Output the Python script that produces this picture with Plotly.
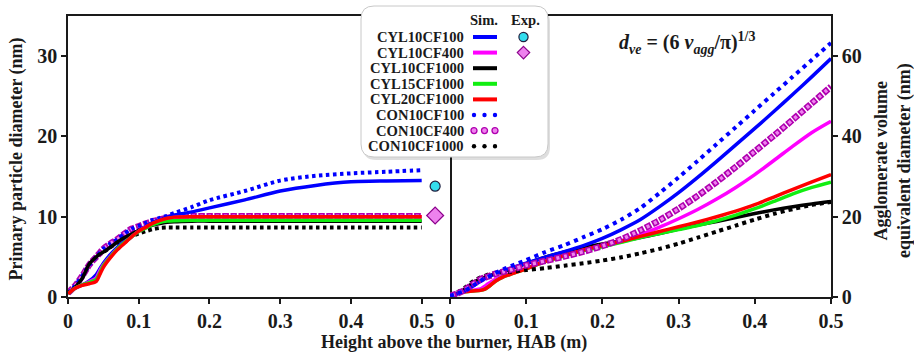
import plotly.graph_objects as go

# ---------------- data ----------------
HAB_L = [0, 0.01, 0.02, 0.03, 0.04, 0.045, 0.05, 0.06, 0.07, 0.08, 0.09, 0.1, 0.11, 0.12,
         0.13, 0.14, 0.15, 0.175, 0.2, 0.25, 0.3, 0.35, 0.4, 0.45, 0.5]

dp_CYL10CF100 = [0.4, 1.1, 1.5, 2.0, 2.8, 3.5, 4.2, 5.3, 6.2, 7.0, 7.6, 8.3, 8.8, 9.3,
                 9.6, 9.95, 10.2, 10.6, 11.1, 12.1, 13.2, 13.9, 14.35, 14.45, 14.5]
dp_CYL10CF400 = [0.4, 1.1, 1.5, 1.9, 2.4, 3.3, 4.0, 5.1, 6.0, 6.8, 7.5, 8.2, 8.7, 9.15,
                 9.5, 9.75, 9.9, 10.0, 10.0, 10.0, 10.0, 10.0, 10.0, 10.0, 10.0]
dp_CYL10CF1000 = [0.5, 1.2, 2.3, 4.1, 5.0, 5.35, 5.6, 6.2, 6.85, 7.4, 7.85, 8.3, 8.65, 8.95,
                  9.15, 9.3, 9.38, 9.45, 9.45, 9.45, 9.45, 9.45, 9.45, 9.45, 9.45]
dp_CYL15CF1000 = [0.4, 1.1, 1.5, 1.8, 2.2, 3.0, 3.9, 5.0, 6.0, 6.8, 7.5, 8.15, 8.6, 9.0,
                  9.3, 9.45, 9.5, 9.55, 9.55, 9.55, 9.55, 9.55, 9.55, 9.55, 9.55]
dp_CYL20CF1000 = [0.4, 1.1, 1.45, 1.65, 1.95, 2.8, 3.7, 4.9, 5.9, 6.7, 7.5, 8.2, 8.7, 9.2,
                  9.55, 9.8, 9.95, 10.0, 10.0, 10.0, 10.0, 10.0, 10.0, 10.0, 10.0]
dp_CON10CF100 = [0.5, 1.4, 2.6, 4.0, 5.0, 5.5, 6.0, 6.65, 7.2, 7.9, 8.5, 8.85, 9.25, 9.6,
                 9.85, 10.1, 10.45, 11.2, 12.06, 13.2, 14.5, 15.1, 15.4, 15.6, 15.8]
dp_CON10CF400 = [0.5, 1.4, 2.6, 4.0, 5.0, 5.5, 6.0, 6.65, 7.2, 7.9, 8.5, 8.8, 9.15, 9.45,
                 9.65, 9.85, 10.0, 10.05, 10.05, 10.05, 10.05, 10.05, 10.05, 10.05, 10.05]
dp_CON10CF1000 = [0.5, 1.3, 2.4, 4.0, 4.9, 5.3, 5.6, 6.2, 6.8, 7.3, 7.6, 7.9, 8.2, 8.45,
                  8.6, 8.65, 8.65, 8.65, 8.65, 8.65, 8.65, 8.65, 8.65, 8.65, 8.65]

EXP_HAB = [0.519]
EXP_CF100 = [13.8]
EXP_CF400 = [10.15]

HAB_R = [0, 0.01, 0.02, 0.03, 0.04, 0.045, 0.05, 0.06, 0.07, 0.08, 0.1, 0.125, 0.15, 0.175,
         0.2, 0.225, 0.25, 0.275, 0.3, 0.325, 0.35, 0.375, 0.4, 0.425, 0.45, 0.475, 0.5]

dve_CYL10CF100 = [0.3, 0.8, 1.5, 2.7, 3.9, 4.5, 5.0, 5.8, 6.5, 7.2, 8.4, 9.9, 11.3, 12.8,
                  14.6, 16.8, 19.3, 22.5, 26.0, 29.8, 33.8, 37.9, 42.0, 46.2, 50.5, 54.9, 59.4]
dve_CYL10CF400 = [0.3, 0.9, 1.4, 1.7, 2.0, 2.6, 3.3, 4.5, 5.3, 6.0, 7.2, 8.9, 10.3, 11.6,
                  12.7, 14.0, 15.5, 17.4, 19.5, 21.8, 24.4, 27.3, 30.5, 34.0, 37.6, 41.0, 43.8]
dve_CYL10CF1000 = [0.3, 1.0, 2.0, 3.5, 4.5, 4.9, 5.2, 5.8, 6.4, 7.0, 8.3, 9.9, 11.2, 12.3,
                   13.2, 14.0, 14.8, 15.8, 16.9, 17.9, 18.8, 19.8, 20.8, 21.7, 22.5, 23.2, 23.8]
dve_CYL15CF1000 = [0.3, 0.9, 1.3, 1.5, 1.65, 1.9, 2.5, 4.0, 5.0, 5.7, 7.0, 8.8, 10.2, 11.5,
                   12.5, 13.6, 14.8, 15.8, 16.8, 17.8, 19.0, 20.4, 22.0, 23.8, 25.7, 27.3, 28.6]
dve_CYL20CF1000 = [0.3, 0.9, 1.3, 1.5, 1.65, 1.9, 2.5, 4.0, 5.0, 5.7, 7.0, 8.9, 10.3, 11.7,
                   12.8, 13.9, 15.1, 16.3, 17.5, 18.7, 20.0, 21.4, 23.0, 24.9, 26.8, 28.7, 30.5]
dve_CON10CF100 = [0.3, 0.9, 1.6, 2.8, 4.0, 4.6, 5.0, 6.0, 6.9, 7.7, 9.2, 11.2, 12.9, 14.9,
                  16.9, 19.3, 22.2, 25.9, 29.8, 33.9, 38.1, 42.3, 46.5, 50.7, 54.9, 59.1, 63.3]
dve_CON10CF400 = [0.3, 0.9, 1.8, 3.2, 4.4, 4.8, 5.1, 5.8, 6.3, 6.8, 7.9, 9.0, 10.1, 11.3,
                  12.7, 14.4, 16.6, 19.1, 22.0, 25.2, 28.7, 32.4, 36.3, 40.2, 44.2, 48.3, 52.4]
dve_CON10CF1000 = [0.3, 1.2, 2.4, 3.9, 4.9, 5.2, 5.6, 5.9, 6.1, 6.3, 6.7, 7.2, 7.8, 8.4,
                   9.1, 9.9, 10.9, 12.0, 13.3, 14.8, 16.3, 17.8, 19.3, 20.7, 21.9, 22.9, 23.7]

X_TICKS = [0, 0.1, 0.2, 0.3, 0.4, 0.5]
X_TICKTEXT = ["0", "0.1", "0.2", "0.3", "0.4", "0.5"]
YL_TICKS = [0, 10, 20, 30]
YR_TICKS = [0, 20, 40, 60]

# ---------------- layout helpers ----------------
W, H = 914, 356
PL, PR, PT, PB = 68, 831, 16, 297


def fx(px):
    return (px - PL) / (PR - PL)


def fy(py):
    return (PB - py) / (PB - PT)


XSPLIT = fx(450)
FONT = "Liberation Serif, Times New Roman, serif"
INK = "#1a1a1a"
BLUE, MAG, BLK, GRN, RED = "#0000FF", "#FF00FF", "#000000", "#11EE11", "#FF0000"
PINK_FILL, PINK_EDGE = "#EE82EE", "#B000B0"
CYAN = "#33DDEE"

fig = go.Figure()


def solid(x, y, color, xa, ya, name):
    fig.add_trace(go.Scatter(x=x, y=y, mode="lines", name=name, showlegend=False,
                             line=dict(color=color, width=3.5, shape="spline", smoothing=0.7),
                             xaxis=xa, yaxis=ya))


def dotted(x, y, color, xa, ya, name, dash):
    fig.add_trace(go.Scatter(x=x, y=y, mode="lines", name=name, showlegend=False,
                             line=dict(color=color, width=4, dash=dash, shape="spline", smoothing=0.7),
                             xaxis=xa, yaxis=ya))


def ringed(x, y, xa, ya, name):
    fig.add_trace(go.Scatter(x=x, y=y, mode="lines", name=name, showlegend=False,
                             line=dict(color=PINK_EDGE, width=6.5, dash="6.5px,1.5px",
                                       shape="spline", smoothing=0.7),
                             xaxis=xa, yaxis=ya))
    fig.add_trace(go.Scatter(x=x, y=y, mode="lines", name=name, showlegend=False,
                             line=dict(color=PINK_FILL, width=3.5, dash="0px,1.75px,3px,3.25px",
                                       shape="spline", smoothing=0.7),
                             xaxis=xa, yaxis=ya))


# left panel: primary particle diameter
dotted(HAB_L, dp_CON10CF1000, BLK, "x", "y", "CON10CF1000", "3.5px,3.5px")
ringed(HAB_L, dp_CON10CF400, "x", "y", "CON10CF400")
dotted(HAB_L, dp_CON10CF100, BLUE, "x", "y", "CON10CF100", "3.5px,3.5px")
solid(HAB_L, dp_CYL10CF100, BLUE, "x", "y", "CYL10CF100")
solid(HAB_L, dp_CYL10CF1000, BLK, "x", "y", "CYL10CF1000")
solid(HAB_L, dp_CYL10CF400, MAG, "x", "y", "CYL10CF400")
solid(HAB_L, dp_CYL15CF1000, GRN, "x", "y", "CYL15CF1000")
solid(HAB_L, dp_CYL20CF1000, RED, "x", "y", "CYL20CF1000")
fig.add_trace(go.Scatter(x=EXP_HAB, y=EXP_CF100, mode="markers", showlegend=False, name="Exp. CF100",
                         marker=dict(symbol="circle", size=10, color=CYAN,
                                     line=dict(color="#202040", width=1.2)),
                         xaxis="x", yaxis="y", cliponaxis=False))
fig.add_trace(go.Scatter(x=EXP_HAB, y=EXP_CF400, mode="markers", showlegend=False, name="Exp. CF400",
                         marker=dict(symbol="diamond", size=13, color=PINK_FILL,
                                     line=dict(color="#8B008B", width=1.2)),
                         xaxis="x", yaxis="y", cliponaxis=False))

# right panel: agglomerate volume-equivalent diameter
solid(HAB_R, dve_CYL10CF1000, BLK, "x2", "y2", "CYL10CF1000")
solid(HAB_R, dve_CYL10CF400, MAG, "x2", "y2", "CYL10CF400")
solid(HAB_R, dve_CYL15CF1000, GRN, "x2", "y2", "CYL15CF1000")
solid(HAB_R, dve_CYL20CF1000, RED, "x2", "y2", "CYL20CF1000")
solid(HAB_R, dve_CYL10CF100, BLUE, "x2", "y2", "CYL10CF100")
dotted(HAB_R, dve_CON10CF1000, BLK, "x2", "y2", "CON10CF1000", "4px,4px")
ringed(HAB_R, dve_CON10CF400, "x2", "y2", "CON10CF400")
dotted(HAB_R, dve_CON10CF100, BLUE, "x2", "y2", "CON10CF100", "4px,4.5px")

tickfont = dict(family=FONT, size=20, color=INK, weight="bold")
axis_common = dict(showline=True, linecolor=INK, linewidth=1.6, ticks="outside",
                   ticklen=5, tickwidth=1.5, tickcolor=INK, showgrid=False, zeroline=False,
                   tickfont=tickfont)

fig.update_layout(
    width=W, height=H,
    margin=dict(l=PL, r=W - PR, t=PT, b=H - PB, pad=0),
    paper_bgcolor="white", plot_bgcolor="white",
    showlegend=False,
    xaxis=dict(domain=[0, XSPLIT], range=[0, 0.54], tickvals=X_TICKS, ticktext=X_TICKTEXT,
               anchor="y", mirror=True, **axis_common),
    yaxis=dict(domain=[0, 1], range=[0, 35], tickvals=YL_TICKS, anchor="x", mirror=True,
               **axis_common),
    xaxis2=dict(domain=[XSPLIT, 1], range=[0, 0.5], tickvals=X_TICKS, ticktext=X_TICKTEXT,
                anchor="y2", mirror=True, **axis_common),
    yaxis2=dict(domain=[0, 1], range=[0, 70], tickvals=YR_TICKS, anchor="x2", side="right",
                mirror=False, **axis_common),
)

title_font = dict(family=FONT, size=18, color=INK, weight="bold")
annotations = [
    dict(x=fx(15.5), y=fy(159), xref="paper", yref="paper", text="Primary particle diameter (nm)",
         textangle=-90, showarrow=False, font=title_font, xanchor="center", yanchor="middle"),
    dict(x=fx(454), y=fy(342), xref="paper", yref="paper", text="Height above the burner, HAB (m)",
         showarrow=False, font=title_font, xanchor="center", yanchor="middle"),
    dict(x=fx(893), y=fy(160), xref="paper", yref="paper",
         text="Agglomerate volume<br>equivalent diameter (nm)",
         textangle=-90, showarrow=False, font=title_font, xanchor="center", yanchor="middle"),
    dict(x=fx(687), y=fy(43), xref="paper", yref="paper",
         text="<i>d</i><sub><i>ve</i></sub> = (6 <i>v</i><sub><i>agg</i></sub>/π)<sup>1/3</sup>",
         showarrow=False, font=dict(family=FONT, size=20, color=INK, weight="bold"),
         xanchor="center", yanchor="middle"),
]

# ---------------- hand-built legend box ----------------
shapes = []


def rounded_path(x0, y0, x1, y1, r):
    p = [
        f"M {fx(x0 + r)},{fy(y0)}", f"L {fx(x1 - r)},{fy(y0)}",
        f"Q {fx(x1)},{fy(y0)} {fx(x1)},{fy(y0 + r)}", f"L {fx(x1)},{fy(y1 - r)}",
        f"Q {fx(x1)},{fy(y1)} {fx(x1 - r)},{fy(y1)}", f"L {fx(x0 + r)},{fy(y1)}",
        f"Q {fx(x0)},{fy(y1)} {fx(x0)},{fy(y1 - r)}", f"L {fx(x0)},{fy(y0 + r)}",
        f"Q {fx(x0)},{fy(y0)} {fx(x0 + r)},{fy(y0)}", "Z",
    ]
    return " ".join(p)


BX0, BY0, BX1, BY1 = 361, 6, 548, 157
shapes.append(dict(type="path", xref="paper", yref="paper", layer="above",
                   path=rounded_path(BX0 + 2, BY0 + 3, BX1 + 2, BY1 + 3, 13),
                   fillcolor="rgba(0,0,0,0.13)", line=dict(width=0)))
shapes.append(dict(type="path", xref="paper", yref="paper", layer="above",
                   path=rounded_path(BX0, BY0, BX1, BY1, 13),
                   fillcolor="white", line=dict(color="#c8c8c8", width=1)))

legend_names = ["CYL10CF100", "CYL10CF400", "CYL10CF1000", "CYL15CF1000", "CYL20CF1000",
                "CON10CF100", "CON10CF400", "CON10CF1000"]
legend_kind = ["solid", "solid", "solid", "solid", "solid", "dot", "ring", "dot"]
legend_color = [BLUE, MAG, BLK, GRN, RED, BLUE, MAG, BLK]
leg_font = dict(family=FONT, size=14.6, color=INK, weight="bold")
ROW0, ROWSTEP = 37, 15.6
SX0, SX1 = 473, 497

annotations.append(dict(x=fx(484), y=fy(20), xref="paper", yref="paper", text="Sim.",
                        showarrow=False, font=leg_font, xanchor="center", yanchor="middle"))
annotations.append(dict(x=fx(525), y=fy(20), xref="paper", yref="paper", text="Exp.",
                        showarrow=False, font=leg_font, xanchor="center", yanchor="middle"))


def circle(cx, cy, r, fill, edge, ew):
    return dict(type="circle", xref="paper", yref="paper", layer="above",
                x0=fx(cx - r), x1=fx(cx + r), y0=fy(cy + r), y1=fy(cy - r),
                fillcolor=fill, line=dict(color=edge, width=ew))


for i, (nm, kind, col) in enumerate(zip(legend_names, legend_kind, legend_color)):
    ry = ROW0 + i * ROWSTEP
    annotations.append(dict(x=fx(466), y=fy(ry), xref="paper", yref="paper", text=nm,
                            showarrow=False, font=leg_font, xanchor="right", yanchor="middle"))
    if kind == "solid":
        shapes.append(dict(type="line", xref="paper", yref="paper", layer="above",
                           x0=fx(SX0), x1=fx(SX1), y0=fy(ry), y1=fy(ry),
                           line=dict(color=col, width=4)))
    elif kind == "dot":
        for cx in (474, 484.5, 495):
            shapes.append(circle(cx, ry, 2.2, col, col, 0))
    else:
        for cx in (474, 484.5, 495):
            shapes.append(circle(cx, ry, 3.0, PINK_FILL, PINK_EDGE, 1.3))

# experimental symbols in legend
shapes.append(circle(523.5, ROW0, 4.6, CYAN, "#202040", 1.2))
dy = 6.2
cx, cy = 523.5, ROW0 + ROWSTEP
shapes.append(dict(type="path", xref="paper", yref="paper", layer="above",
                   path=f"M {fx(cx)},{fy(cy - dy)} L {fx(cx + dy)},{fy(cy)} L {fx(cx)},{fy(cy + dy)} "
                        f"L {fx(cx - dy)},{fy(cy)} Z",
                   fillcolor=PINK_FILL, line=dict(color="#8B008B", width=1.2)))

fig.update_layout(shapes=shapes, annotations=annotations)
fig.write_html("out.html", config={"displayModeBar": False})
